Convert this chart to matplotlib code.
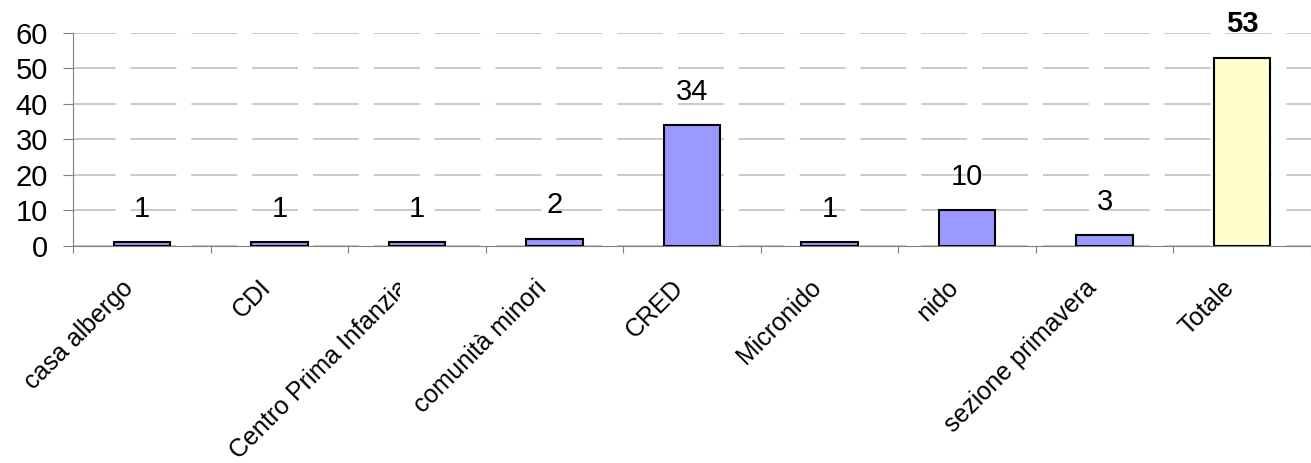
import numpy as np
import matplotlib
matplotlib.use("Agg")
import matplotlib.pyplot as plt
import matplotlib.transforms as mtransforms

plt.rcParams['font.family'] = ['Liberation Sans', 'DejaVu Sans']

categories = ["casa albergo", "CDI", "Centro Prima Infanzia", "comunità minori",
              "CRED", "Micronido", "nido", "sezione primavera", "Totale"]
values = [1, 1, 1, 2, 34, 1, 10, 3, 53]
colors = ["#9999FF"] * 8 + ["#FFFFCC"]

fig = plt.figure(figsize=(13.11, 4.63), dpi=100)
ax = fig.add_axes([0.0557, 0.4687, 0.9443, 0.4607])

x = np.arange(len(categories))
ax.bar(x, values, width=0.41, color=colors, edgecolor="black", linewidth=1.5, zorder=3)

for xi, v in zip(x, values):
    bold = "bold" if xi == len(values) - 1 else "normal"
    ax.annotate(str(v), (xi, v), xytext=(0, 14), textcoords="offset points",
                ha="center", va="bottom", fontsize=21, fontweight=bold)

ax.set_xlim(-0.5, len(categories) - 0.5)
ax.set_ylim(0, 60)
ax.set_yticks(np.arange(0, 61, 10))
ax.tick_params(axis="y", labelsize=21, length=7, color="#808080", pad=11)
ax.yaxis.grid(True, color="#c0c0c0", linewidth=1.2)
for gl in ax.yaxis.get_gridlines():
    gl.set_linestyle((2, (27.5, 9)))
ax.set_axisbelow(True)

# ticks between the categories, labels drawn by hand below
ax.set_xticks(np.arange(len(categories) + 1) - 0.5)
ax.set_xticklabels([])
ax.tick_params(axis="x", length=5, color="#808080")

base = mtransforms.blended_transform_factory(ax.transData, ax.transAxes)
off = mtransforms.ScaledTranslation(-12 / 100, -38 / 100, fig.dpi_scale_trans)
for xi, lab in zip(x, categories):
    t = ax.text(xi, 0, lab, transform=base + off, rotation=45, ha="right", va="center",
                rotation_mode="anchor", fontsize=18, clip_on=False)
    if lab == "Centro Prima Infanzia":
        t.set_clip_box(mtransforms.Bbox([[0, 0], [400, 463]]))
        t.set_clip_on(True)

for s in ["top", "right"]:
    ax.spines[s].set_visible(False)
ax.spines["left"].set_color("#808080")
ax.spines["bottom"].set_color("#808080")

fig.savefig("out.png", dpi=100)
